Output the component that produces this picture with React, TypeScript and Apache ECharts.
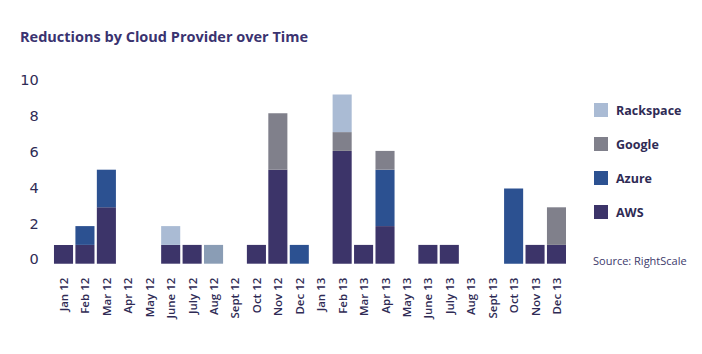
import React, { useEffect, useRef } from "react";
import * as echarts from "echarts";

const categories = [
  "Jan 12", "Feb 12", "Mar 12", "Apr 12", "May 12", "June 12", "July 12", "Aug 12",
  "Sept 12", "Oct 12", "Nov 12", "Dec 12", "Jan 13", "Feb 13", "Mar 13", "Apr 13",
  "May 13", "June 13", "July 13", "Aug 13", "Sept 13", "Oct 13", "Nov 13", "Dec 13",
];
const aws = [1, 1, 3, null, null, 1, 1, null, null, 1, 5, null, null, 6, 1, 2, null, 1, 1, null, null, null, 1, 1];
const azure = [null, 1, 2, null, null, null, null, null, null, null, null, 1, null, null, null, 3, null, null, null, null, null, 4, null, null];
const google = [null, null, null, null, null, null, null, null, null, null, 3, null, null, 1, null, 1, null, null, null, null, null, null, null, 2];
const rackspace = [null, null, null, null, null, 1, null, null, null, null, null, null, null, 2, null, null, null, null, null, null, null, null, null, null];
const other = [null, null, null, null, null, null, null, 1, null, null, null, null, null, null, null, null, null, null, null, null, null, null, null, null];
const yTicks = [0, 2, 4, 6, 8, 10];

const TEXT = "#2f2b55";
const FONT = "'Open Sans', 'DejaVu Sans', sans-serif";

export default function App() {
  const ref = useRef<HTMLDivElement>(null);
  useEffect(() => {
    if (!ref.current) return;
    const chart = echarts.init(ref.current, undefined, { renderer: "svg" });
    const mk = (name: string, data: (number | null)[], color: string) => ({
      name,
      type: "bar",
      stack: "total",
      data,
      barCategoryGap: "11%",
      itemStyle: { color },
    });
    const yFont = { fontFamily: "'DejaVu Sans', sans-serif", fontSize: 14.5, fontWeight: 500, color: TEXT };
    const shifts: Record<number, number> = { 0: -4.7, 2: -2.4, 4: -0.2, 6: 1.4, 8: 2.4, 10: 4.3 };
    const rich: Record<string, any> = {};
    yTicks.forEach((v) => {
      const d = shifts[v];
      rich["r" + v] = {
        ...yFont,
        padding: d >= 0 ? [2 * d, 0, 0, 0] : [0, 0, -2 * d, 0],
      };
    });
    chart.setOption({
      animation: false,
      backgroundColor: "#ffffff",
      title: {
        text: "Reductions by Cloud Provider over Time",
        left: 20,
        top: 29,
        padding: 0,
        textStyle: { fontFamily: "'Open Sans', sans-serif", fontWeight: "bold", fontSize: 14.5, color: "#3a3370" },
      },
      legend: {
        data: ["Rackspace", "Google", "Azure", "AWS"],
        orient: "vertical",
        left: 594,
        top: 103,
        padding: 0,
        icon: "rect",
        itemWidth: 14,
        itemHeight: 14,
        itemGap: 20,
        textStyle: { fontFamily: "'Open Sans', sans-serif", fontWeight: "bold", fontSize: 12.5, color: TEXT, padding: [0, 0, 0, 3] },
      },
      graphic: [
        {
          type: "text",
          left: 593,
          top: 255,
          style: { text: "Source: RightScale", fontFamily: "'Open Sans', sans-serif", fontSize: 11, fill: "#3d3a6b" },
        },
      ],
      grid: { left: 52.8, right: 134.8, top: 75.7, bottom: 90.3 },
      xAxis: {
        type: "category",
        data: categories,
        axisLine: { show: false },
        axisTick: { show: false },
        axisLabel: {
          rotate: 90,
          margin: 14,
          interval: 0,
          fontFamily: FONT,
          fontSize: 11.5,
          fontWeight: 600,
          color: TEXT,
        },
      },
      yAxis: {
        type: "value",
        min: 0,
        max: 10,
        interval: 2,
        splitLine: { show: false },
        axisLine: { show: false },
        axisTick: { show: false },
        axisLabel: {
          margin: 14,
          ...yFont,
          rich,
          formatter: (v: number) => (yTicks.includes(v) ? `{r${v}|${v}}` : ""),
        },
      },
      series: [
        mk("AWS", aws, "#3c3469"),
        mk("Azure", azure, "#2c5191"),
        mk("Google", google, "#80808b"),
        mk("Rackspace", rackspace, "#aabbd4"),
        mk("Other", other, "#8a9db5"),
      ],
    });
    return () => chart.dispose();
  }, []);
  return <div ref={ref} style={{ position: "absolute", left: 0, top: 0, width: 702, height: 354 }} />;
}
